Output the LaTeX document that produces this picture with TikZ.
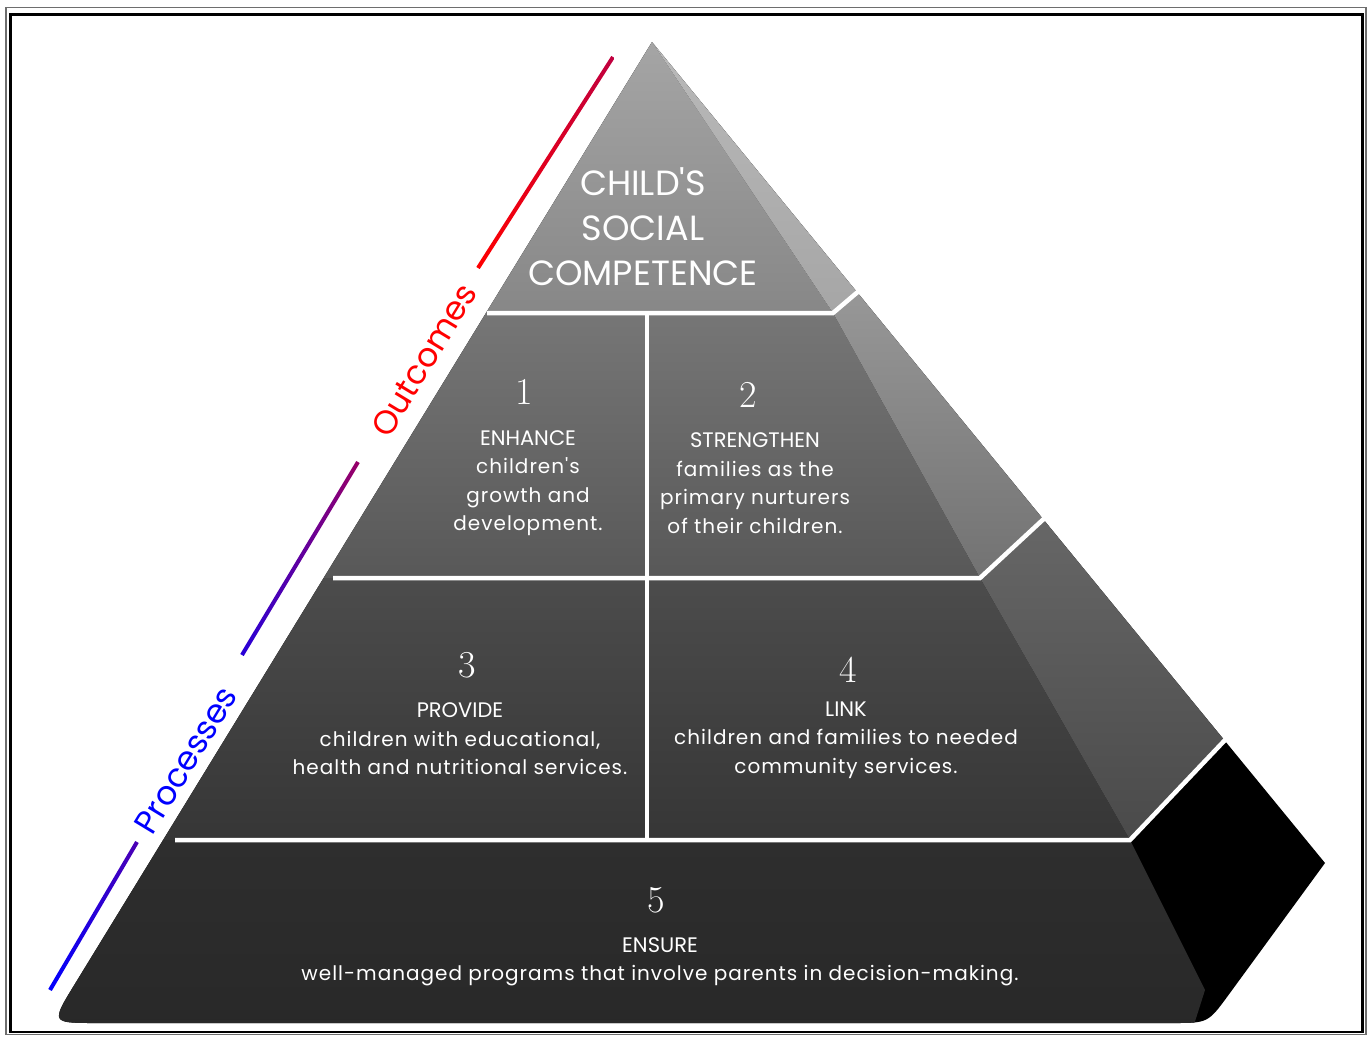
\documentclass[tikz,border=0pt]{standalone}
\usepackage{fontspec}
\setsansfont{Poppins}
\newfontfamily\bodyfont[LetterSpace=5]{Poppins}
\newfontfamily\headfont{Poppins}
\usetikzlibrary{calc}
\definecolor{fonet}{HTML}{A8A8A8}
\definecolor{foneb}{HTML}{878787}
\definecolor{sonet}{HTML}{BBBBBB}
\definecolor{soneb}{HTML}{A6A6A6}
\definecolor{ftwot}{HTML}{767676}
\definecolor{ftwob}{HTML}{585858}
\definecolor{stwot}{HTML}{9C9C9C}
\definecolor{stwob}{HTML}{727272}
\definecolor{fthreet}{HTML}{4C4C4C}
\definecolor{fthreeb}{HTML}{363636}
\definecolor{sthreet}{HTML}{6C6C6C}
\definecolor{sthreeb}{HTML}{4A4A4A}
\definecolor{ffourt}{HTML}{2E2E2E}
\definecolor{ffourb}{HTML}{262626}
\definecolor{framegray}{HTML}{6E6E6E}
\tikzset{
  wline/.style={draw=white, line width=4.5pt, line join=miter},
  numlbl/.style={text=white, inner sep=0pt, font=\rmfamily\fontsize{38}{40}\selectfont},
  blk/.style={text=white, inner sep=0pt, align=center, font=\bodyfont\fontsize{20}{28.5}\selectfont},
  ttl/.style={text=white, inner sep=0pt, align=center, font=\headfont\fontsize{35}{45}\selectfont},
  sidelbl/.style={rotate=58.7, inner sep=0pt, font=\headfont\fontsize{33}{38}\selectfont},
}
\newcommand{\hd}{\headfont\fontsize{21}{28.5}\selectfont}
\begin{document}
\begin{tikzpicture}[x=1pt,y=-1pt]
\useasboundingbox (0,0) rectangle (1367,1036);
% frame
\draw[framegray, line width=1.5pt] (6,7.5) rectangle (1366,1034.5);
\draw[black, line width=2.5pt] (10.5,14.5) rectangle (1362.5,1032);
% pyramid outline points
\coordinate (A) at (652,42);
\coordinate (T1) at (74.5,984.6);
\coordinate (BL) at (51,1023);
\coordinate (T2) at (96,1023);
\coordinate (T3) at (1173,1023);
\coordinate (BR) at (1208,1023);
\coordinate (T4) at (1228.7,994.7);
\coordinate (RC) at (1325,863);
% face corners
\coordinate (F0) at (633.3,14);
\coordinate (F1) at (833,313);
\coordinate (F2) at (980,578);
\coordinate (F3) at (1130,840);
\coordinate (F4) at (1205,990);
\coordinate (F5) at (1170,1100);
\coordinate (D1) at (900.5,255.5);
\coordinate (D2) at (1110,456);
\coordinate (D3) at (1304.6,656.4);
\begin{scope}
  \clip (A) -- (T1) .. controls (BL) .. (T2) -- (T3) .. controls (BR) .. (T4) -- (RC) -- cycle;
  \fill[black] (0,0) rectangle (1367,1036);
  % tier 1
  \shade[top color=fonet, bottom color=foneb] (0,14) -- (F0) -- (F1) -- (0,313) -- cycle;
  \shade[top color=sonet, bottom color=soneb] (F0) -- (900.5,14) -- (D1) -- (F1) -- cycle;
  % tier 2
  \shade[top color=ftwot, bottom color=ftwob] (0,313) -- (F1) -- (F2) -- (0,578) -- cycle;
  \shade[top color=stwot, bottom color=stwob] (F1) -- (D1) -- (1110,255.5) -- (D2) -- (F2) -- cycle;
  % tier 3
  \shade[top color=fthreet, bottom color=fthreeb] (0,578) -- (F2) -- (F3) -- (0,840) -- cycle;
  \shade[top color=sthreet, bottom color=sthreeb] (F2) -- (D2) -- (1304.6,456) -- (D3) -- (F3) -- cycle;
  % tier 4
  \shade[top color=ffourt, bottom color=ffourb] (0,840) -- (F3) -- (F4) -- (F5) -- (0,1100) -- cycle;
\end{scope}
% white dividing lines
\coordinate (W1a) at (487,313);
\coordinate (W1b) at (858.5,291.3);
\coordinate (W2a) at (333,578);
\coordinate (W2b) at (1044.3,518.4);
\coordinate (W3a) at (175,840);
\coordinate (W3b) at (1225.5,739.5);
\coordinate (Va) at (647,313);
\coordinate (Vb) at (647,840);
\draw[wline] (W1a) -- (F1) -- (W1b);
\draw[wline] (W2a) -- (F2) -- (W2b);
\draw[wline] (W3a) -- (F3) -- (W3b);
\draw[wline] (Va) -- (Vb);
% side marker lines
\coordinate (O1a) at (478,268);
\coordinate (O1b) at (613,57);
\coordinate (O2a) at (242,655);
\coordinate (O2b) at (358,462);
\coordinate (P1a) at (50,990);
\coordinate (P1b) at (137,842);
\shade[left color=red, right color=red!75!blue]
  ($(O1a)!2pt!90:(O1b)$) -- ($(O1b)!2pt!-90:(O1a)$) -- ($(O1b)!2pt!90:(O1a)$) -- ($(O1a)!2pt!-90:(O1b)$) -- cycle;
\shade[left color=blue!85!red, right color=red!60!blue]
  ($(O2a)!2pt!90:(O2b)$) -- ($(O2b)!2pt!-90:(O2a)$) -- ($(O2b)!2pt!90:(O2a)$) -- ($(O2a)!2pt!-90:(O2b)$) -- cycle;
\shade[left color=blue, right color=blue!70!red]
  ($(P1a)!2pt!90:(P1b)$) -- ($(P1b)!2pt!-90:(P1a)$) -- ($(P1b)!2pt!90:(P1a)$) -- ($(P1a)!2pt!-90:(P1b)$) -- cycle;
\node[sidelbl, text=red] (outc) at (424,360) {Outcomes};
\node[sidelbl, text=blue] (proc) at (186,760) {Processes};
% texts
\node[ttl] (title) at (643,227) {CHILD'S\\SOCIAL\\COMPETENCE};
\node[numlbl] (n1) at (524,392) {1};
\node[blk] (b1) at (528,483) {{\hd ENHANCE}\\children's\\growth and\\development.};
\node[numlbl] (n2) at (748,395) {2};
\node[blk] (b2) at (755,483) {{\hd STRENGTHEN}\\families as the\\primary nurturers\\of their children.};
\node[numlbl] (n3) at (467,665) {3};
\node[blk] (b3) at (460,739) {{\hd PROVIDE}\\children with educational,\\health and nutritional services.};
\node[numlbl] (n4) at (848,670) {4};
\node[blk] (b4) at (846,740) {{\hd LINK}\\children and families to needed\\community services.};
\node[numlbl] (n5) at (656,900) {5};
\node[blk] (b5) at (660,962) {{\hd ENSURE}\\well-managed programs that involve parents in decision-making.};
\end{tikzpicture}
\end{document}
